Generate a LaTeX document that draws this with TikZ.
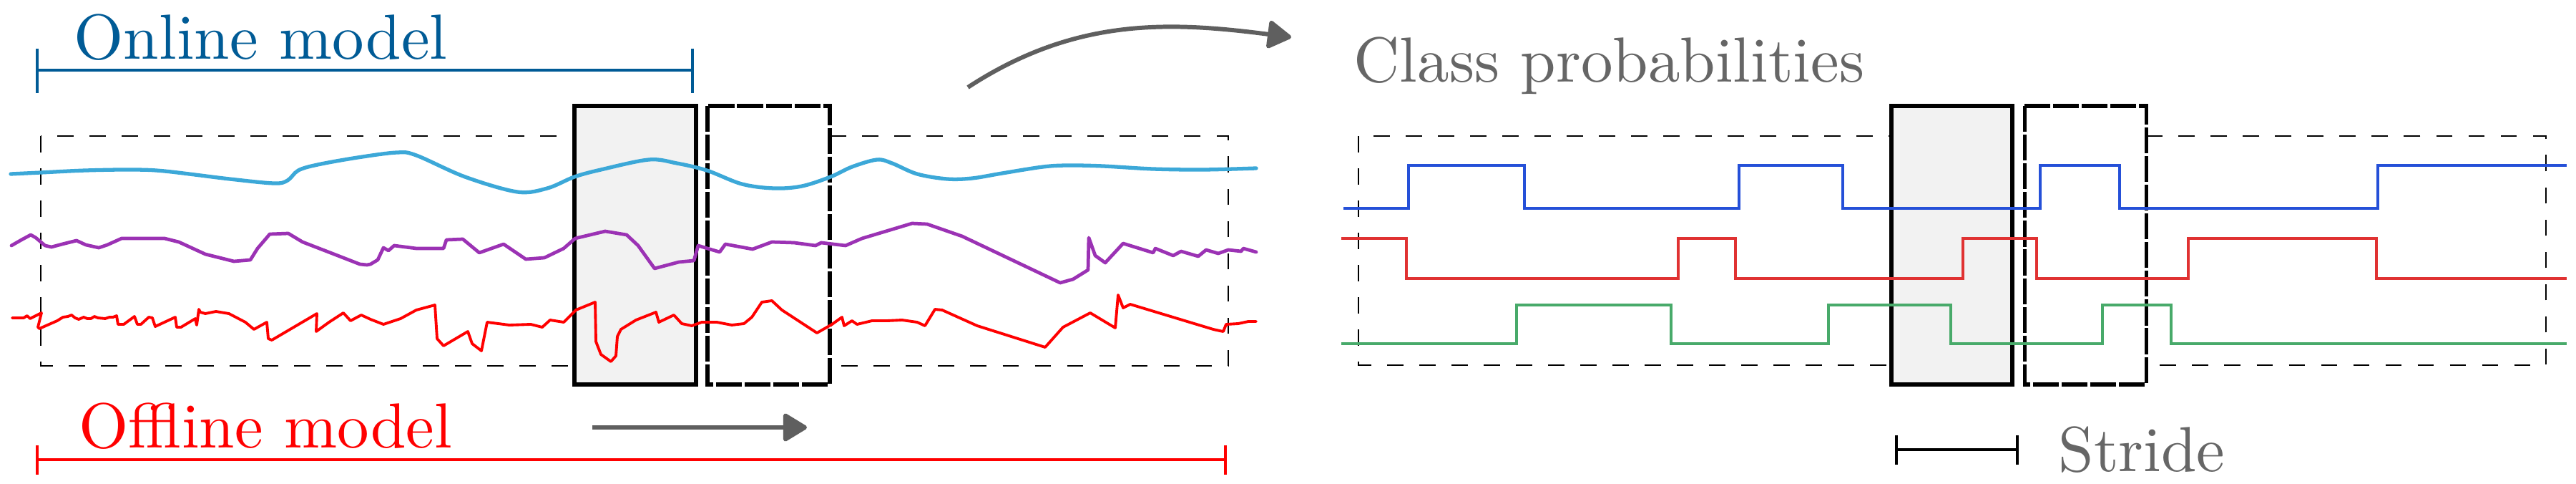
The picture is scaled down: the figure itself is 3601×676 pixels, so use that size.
\documentclass[tikz,border=0pt]{standalone}
\usetikzlibrary{arrows.meta}
\definecolor{onblue}{RGB}{0,91,150}
\definecolor{offred}{RGB}{255,0,0}
\definecolor{cyanc}{RGB}{60,168,216}
\definecolor{purc}{RGB}{155,50,180}
\definecolor{redc}{RGB}{255,0,0}
\definecolor{sblue}{RGB}{37,80,216}
\definecolor{sred}{RGB}{224,50,50}
\definecolor{sgreen}{RGB}{72,170,106}
\definecolor{arrgray}{RGB}{95,95,95}
\definecolor{txtgray}{RGB}{102,102,102}
\definecolor{boxgray}{RGB}{242,242,242}
\newcommand{\biglbl}[1]{\scalebox{2.53}{\fontsize{10}{12}\selectfont #1}}
\tikzset{
  frame/.style={draw=black, line width=0.6pt, dash pattern=on 6.5pt off 6.3pt},
  winsolid/.style={draw=black, fill=boxgray, line width=1.45pt},
  windash/.style={draw=black, fill=white, line width=1.45pt, dash pattern=on 10.3pt off 1.1pt},
  lbl/.style={anchor=base west, inner sep=0pt},
  sig/.style={line join=round, line cap=round},
  stepsig/.style={line width=1.3pt, line join=miter},
  bigarrow/.style={draw=arrgray, line width=1.7pt, -{Triangle[length=0.36cm,width=0.42cm,round]}},
}
\begin{document}
\begin{tikzpicture}[x=0.01cm,y=-0.01cm]
\path[use as bounding box, fill=white] (0,0) rectangle (3601,676);

% ---------- left panel ----------
\draw[frame] (57,190) rectangle (1717,511);
\fill[white] (803,147) rectangle (1161,537);
\draw[winsolid] (803,148) rectangle (973,537);
\draw[windash] (989,148) rectangle (1160,537);

\draw[sig, cyanc, line width=1.5pt] plot[smooth, tension=0.55] coordinates {
(15,243) (57,241) (120,238) (184,237) (230,239) (321,250) (383,256) (402,252) (417,238) (444,230) (500,220) (555,213) (582,217) (650,247) (723,268) (765,263) (803,247) (840,237) (907,223) (946,228) (988,238) (1037,257) (1082,263) (1121,260) (1161,247) (1191,233) (1226,223) (1247,228) (1282,243) (1324,250) (1359,249) (1401,242) (1458,233) (1493,231) (1542,232) (1612,236) (1682,237) (1756,235)};

\draw[sig, purc, line width=1.35pt] plot coordinates {
(16,343) (30,335) (43,328) (50,332) (63,343) (72,345) (87,341) (107,336) (120,342) (138,346) (150,342) (170,333) (230,333) (250,338) (287,355) (327,365) (350,363) (360,347) (372,333) (377,327) (403,326) (423,338) (467,355) (503,369) (513,370) (518,369) (528,363) (536,346) (543,350) (551,343) (582,347) (620,347) (624,335) (647,334) (670,353) (704,341) (735,362) (761,360) (788,347) (804,333) (846,323) (876,328) (892,343) (915,375) (949,366) (970,364) (976,343) (989,347) (1006,352) (1014,341) (1052,348) (1079,338) (1110,339) (1140,343) (1148,339) (1182,343) (1205,333) (1275,312) (1296,313) (1345,330) (1482,395) (1500,390) (1521,377) (1522,332) (1531,357) (1545,367) (1570,340) (1612,353) (1615,347) (1640,357) (1651,351) (1675,358) (1686,349) (1703,354) (1717,349) (1735,351) (1738,347) (1756,352)};

\draw[sig, redc, line width=1.1pt] plot coordinates {
(17,444) (33,444) (38,441) (42,445) (58,437) (53,457) (55,459) (80,448) (88,443) (95,442) (100,440) (105,444) (110,446) (117,443) (122,445) (127,445) (132,442) (137,444) (147,445) (153,443) (158,443) (163,441) (165,453) (173,453) (188,442) (192,453) (197,453) (208,443) (213,444) (217,456) (245,443) (247,457) (253,457) (273,445) (275,454) (278,432) (280,436) (287,438) (302,435) (320,438) (343,450) (355,460) (373,450) (375,473) (380,475) (443,438) (442,463) (460,450) (480,437) (490,448) (505,440) (518,446) (536,453) (560,445) (582,433) (608,426) (611,473) (620,483) (654,463) (660,480) (673,490) (681,450) (712,454) (742,453) (758,457) (769,447) (788,450) (805,433) (832,422) (833,477) (840,495) (854,505) (861,497) (863,470) (868,460) (889,447) (917,436) (921,450) (942,440) (953,452) (967,455) (981,450) (1002,450) (1023,454) (1040,452) (1051,443) (1065,422) (1079,420) (1093,433) (1142,465) (1163,453) (1177,443) (1180,455) (1191,448) (1198,453) (1219,448) (1240,448) (1261,447) (1282,450) (1293,455) (1307,432) (1317,433) (1366,455) (1461,485) (1486,457) (1524,437) (1559,458) (1563,412) (1570,430) (1580,425) (1696,460) (1705,462) (1710,463) (1714,453) (1731,452) (1745,449) (1756,449)};

% brackets
\coordinate (onL) at (52,98);  \coordinate (onR) at (968,98);
\draw[onblue, line width=1.1pt] (onL) -- (onR);
\draw[onblue, line width=1.1pt] ([yshift=0.3cm]onL) -- ([yshift=-0.32cm]onL);
\draw[onblue, line width=1.1pt] ([yshift=0.3cm]onR) -- ([yshift=-0.32cm]onR);
\node[lbl, text=onblue] (online) at (103,83) {\biglbl{Online model}};

\coordinate (offL) at (52,642);  \coordinate (offR) at (1713,642);
\draw[offred, line width=1.2pt] (offL) -- (offR);
\draw[offred, line width=1.2pt] ([yshift=0.2cm]offL) -- ([yshift=-0.21cm]offL);
\draw[offred, line width=1.2pt] ([yshift=0.2cm]offR) -- ([yshift=-0.21cm]offR);
\node[lbl, text=offred] (offline) at (110,625) {\biglbl{Offline model}};

% arrows
\coordinate (sa1) at (828,597); \coordinate (sa2) at (1128,597);
\draw[bigarrow] (sa1) -- (sa2);
\coordinate (ca1) at (1353,122); \coordinate (ca2) at (1805,52);
\draw[bigarrow] (ca1) .. controls (1503,24) and (1635,30) .. (ca2);

\node[lbl, text=txtgray] (classp) at (1892,115) {\biglbl{Class probabilities}};

% ---------- right panel ----------
\draw[frame] (1899,190) rectangle (3559,510);
\fill[white] (2644,147) rectangle (3001,537);
\draw[winsolid] (2644,148) rectangle (2813,537);
\draw[windash] (2830,148) rectangle (3000,537);

\draw[stepsig, sblue] (1878,291) -- (1969,291) -- (1969,231) -- (2131,231) -- (2131,291) -- (2431,291) -- (2431,231) -- (2576,231) -- (2576,291) -- (2852,291) -- (2852,231) -- (2963,231) -- (2963,291) -- (3324,291) -- (3324,231) -- (3588,231);
\draw[stepsig, sred] (1875,333) -- (1966,333) -- (1966,389) -- (2346,389) -- (2346,333) -- (2426,333) -- (2426,389) -- (2744,389) -- (2744,333) -- (2847,333) -- (2847,389) -- (3059,389) -- (3059,333) -- (3322,333) -- (3322,389) -- (3588,389);
\draw[stepsig, sgreen] (1875,480) -- (2120,480) -- (2120,426) -- (2336,426) -- (2336,480) -- (2556,480) -- (2556,426) -- (2727,426) -- (2727,480) -- (2939,480) -- (2939,426) -- (3035,426) -- (3035,480) -- (3588,480);

% stride
\coordinate (stL) at (2651,628); \coordinate (stR) at (2820,628);
\draw[black, line width=1.1pt] (stL) -- (stR);
\draw[black, line width=1.1pt] ([yshift=0.2cm]stL) -- ([yshift=-0.21cm]stL);
\draw[black, line width=1.1pt] ([yshift=0.2cm]stR) -- ([yshift=-0.21cm]stR);
\node[lbl, text=txtgray] (stride) at (2877,658) {\biglbl{Stride}};
\end{tikzpicture}
\end{document}
